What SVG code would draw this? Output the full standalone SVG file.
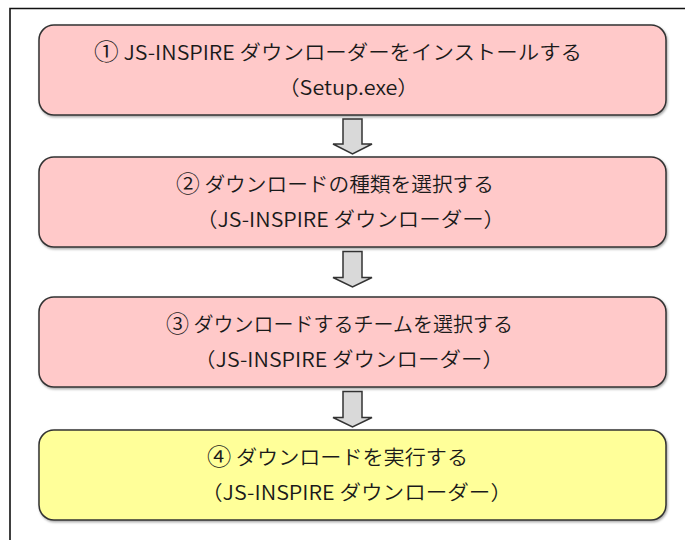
<svg xmlns="http://www.w3.org/2000/svg" width="685" height="540" viewBox="0 0 685 540">
  <defs>
    <filter id="sh" x="-5%" y="-10%" width="110%" height="125%">
      <feDropShadow dx="1" dy="1.5" stdDeviation="0.8" flood-color="#000" flood-opacity="0.35"/>
    </filter>
  </defs>
  <style>
    .box { stroke: #333333; stroke-width: 1.5; filter: url(#sh); }
    .pink { fill: #FFC9C9; }
    .yellow { fill: #FFFF99; }
    .t { font-family: "Noto Sans CJK JP", "Liberation Sans", sans-serif; font-size: 20px; font-weight: 350; fill: #1a1a1a; }
    .num { font-size: 23px; }
    .arrow { fill: #D9D9D9; stroke: #333333; stroke-width: 1.5; stroke-linejoin: miter; }
    .frame { fill: none; stroke: #111111; stroke-width: 1.6; }
  </style>
  <rect width="685" height="540" fill="#ffffff"/>
  <path class="frame" d="M10,541 V8.5 H686"/>

  <g id="connectors">
    <path class="arrow" d="M343,119 H362 V144 H372 L352.5,154 L333,144 H343 Z"/>
    <path class="arrow" d="M343,251.5 H362 V277.5 H372 L352.5,287 L333,277.5 H343 Z"/>
    <path class="arrow" d="M343,391.5 H362 V417.5 H372 L352.5,427 L333,417.5 H343 Z"/>
  </g>

  <g id="step1">
    <rect class="box pink" x="39" y="25" width="627" height="90" rx="15" ry="15"/>
    <text class="t" x="94" y="60" textLength="488" lengthAdjust="spacingAndGlyphs"><tspan class="num">①</tspan> JS-INSPIRE ダウンローダーをインストールする</text>
    <text class="t" x="278" y="95" textLength="141" lengthAdjust="spacingAndGlyphs">（Setup.exe）</text>
  </g>

  <g id="step2">
    <rect class="box pink" x="39" y="157" width="627" height="90" rx="15" ry="15"/>
    <text class="t" x="176" y="192" textLength="318" lengthAdjust="spacingAndGlyphs"><tspan class="num">②</tspan> ダウンロードの種類を選択する</text>
    <text class="t" x="196" y="227" textLength="309" lengthAdjust="spacingAndGlyphs">（JS-INSPIRE ダウンローダー）</text>
  </g>

  <g id="step3">
    <rect class="box pink" x="39" y="297" width="627" height="90" rx="15" ry="15"/>
    <text class="t" x="166" y="332" textLength="347" lengthAdjust="spacingAndGlyphs"><tspan class="num">③</tspan> ダウンロードするチームを選択する</text>
    <text class="t" x="194" y="367" textLength="310" lengthAdjust="spacingAndGlyphs">（JS-INSPIRE ダウンローダー）</text>
  </g>

  <g id="step4">
    <rect class="box yellow" x="39" y="430" width="627" height="90" rx="15" ry="15"/>
    <text class="t" x="207" y="465" textLength="261" lengthAdjust="spacingAndGlyphs"><tspan class="num">④</tspan> ダウンロードを実行する</text>
    <text class="t" x="201" y="500" textLength="311" lengthAdjust="spacingAndGlyphs">（JS-INSPIRE ダウンローダー）</text>
  </g>
</svg>
